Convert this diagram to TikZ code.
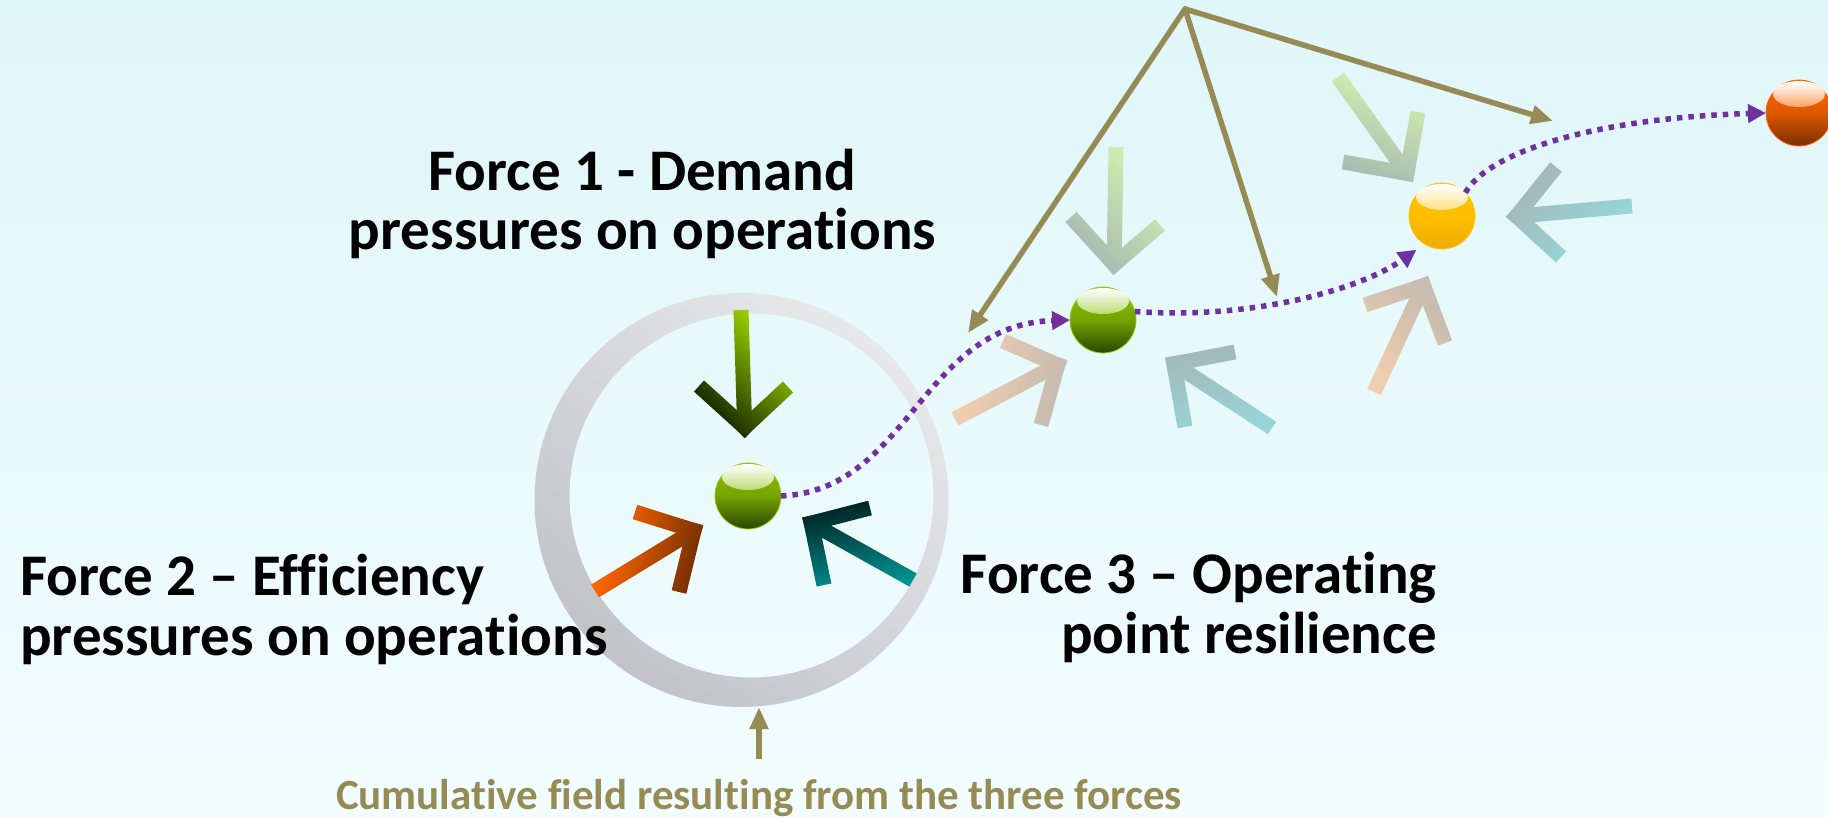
\documentclass[tikz,border=0pt]{standalone}
\usepackage{fontspec}
\setmainfont{Carlito}[Ligatures={NoCommon,NoContextual}, Contextuals={NoAlternate}]
\usetikzlibrary{calc,arrows.meta}
\definecolor{bgtop}{HTML}{DFF6F9}
\definecolor{bgbot}{HTML}{F3FDFE}
\definecolor{bgmid}{HTML}{E8F9FB}
\definecolor{olive}{HTML}{968B55}
\definecolor{purp}{HTML}{7030A0}
\definecolor{grnL}{HTML}{99CC00}
\definecolor{grnD}{HTML}{1C3000}
\definecolor{orgL}{HTML}{FF6600}
\definecolor{orgD}{HTML}{7A3000}
\definecolor{tealL}{HTML}{009999}
\definecolor{tealD}{HTML}{002626}
\colorlet{fgrnL}{grnL!30!bgmid}
\colorlet{fgrnD}{grnD!30!bgmid}
\colorlet{forgL}{orgL!30!bgmid}
\colorlet{forgD}{orgD!30!bgmid}
\colorlet{ftealL}{tealL!35!bgmid}
\colorlet{ftealD}{tealD!30!bgmid}
\definecolor{ringL}{HTML}{E6E8EA}
\definecolor{ringD}{HTML}{C2C3C7}
\definecolor{gbTop}{HTML}{8DC000}
\definecolor{gbMid}{HTML}{74A300}
\definecolor{gbBot}{HTML}{2A4500}
\definecolor{gbHi}{HTML}{B8DA70}
\definecolor{ybTop}{HTML}{FFC400}
\definecolor{ybMid}{HTML}{FFBE00}
\definecolor{ybBot}{HTML}{F0AC00}
\definecolor{ybHi}{HTML}{FFDF80}
\definecolor{obTop}{HTML}{FF6A00}
\definecolor{obMid}{HTML}{DD5800}
\definecolor{obBot}{HTML}{7A2E00}
\definecolor{obHi}{HTML}{FFA060}
\colorlet{armL}{grnL}
\colorlet{armD}{grnD}

\pgfdeclareverticalshading[armL,armD]{armgrad}{100bp}{color(0bp)=(armD); color(35bp)=(armD); color(65bp)=(armL); color(100bp)=(armL)}

\tikzset{
  gloss/.style n args={4}{circle, minimum size=66pt, inner sep=0pt, outer sep=0pt,
      top color=#1, bottom color=#3, middle color=#2, draw=#4, line width=0.8pt},
  dotpath/.style={draw=purp, line width=5.5pt, dash pattern=on 5.5pt off 6pt,
      -{Triangle[length=18pt,width=18pt]}},
  olivearrow/.style={draw=olive, line width=5.5pt, -{Triangle[length=22pt,width=18pt]}},
  lbl/.style={font=\bfseries\fontsize{59}{70}\selectfont, inner sep=0pt, text=black},
  caplbl/.style={font=\bfseries\fontsize{43}{50}\selectfont, inner sep=0pt, text=olive},
}

\newcommand\armpiece[5]{%
  \coordinate (apA) at (#1);
  \coordinate (apB) at ($(#2)!-#3!(#1)$);
  \begin{scope}
    \clip ($(apA)!7.5pt!90:(apB)$) -- ($(apB)!7.5pt!-90:(apA)$) --
          ($(apB)!7.5pt!90:(apA)$) -- ($(apA)!7.5pt!-90:(apB)$) -- cycle;
    \shade[shading=armgrad, shading angle=#5] (#4) circle[radius=75];
  \end{scope}}

% #1 shaft start, #2 apex, #3 #4 wing ends, #5 light, #6 dark, #7 angle
\newcommand\chev[7]{%
  \colorlet{armL}{#5}\colorlet{armD}{#6}%
  \coordinate (chT) at ($(#2)!10.6pt!(#1)$);
  \coordinate (chC) at ($(#1)!0.5!(#2)$);
  \armpiece{#1}{chT}{0pt}{chC}{#7}%
  \armpiece{#3}{chT}{7.5pt}{chC}{#7}%
  \armpiece{#4}{chT}{7.5pt}{chC}{#7}}

\newcommand\hilite[2]{%
  \shade[top color=white, bottom color=#2, middle color=white!55!#2]
    ($(#1.center)+(0,-19)$) ellipse[x radius=26, y radius=13];}

\begin{document}
\begin{tikzpicture}[x=1pt, y=-1pt]
\useasboundingbox (0,0) rectangle (1828,818);
\clip (0,0) rectangle (1828,818);
\shade[top color=bgtop, bottom color=bgbot] (0,0) rectangle (1828,818);

% cumulative field ring
\node[circle, minimum size=414pt, inner sep=0pt] (ring) at (741.5,500) {};
\shade[even odd rule, top color=ringL, bottom color=ringD, shading angle=-40]
  (741.5,500) circle[radius=207] (751.5,495.5) circle[radius=182];

% the three forces (main)
\chev{741,310}{745,438}{699,386}{788,387}{grnL}{grnD}{-45}
\chev{595,591}{703,525}{635,512}{679,592}{orgL}{orgD}{75}
\chev{913,580}{802,518}{870,508}{824,585}{tealL}{tealD}{190}

% faded forces at second point
\chev{1116,147}{1114,275}{1071,217}{1160,225}{fgrnL}{fgrnD}{-45}
\chev{955,419}{1067,360}{1003,341}{1041,425}{forgL}{forgD}{80}
\chev{1272,428}{1165,358}{1235,352}{1185,427}{ftealL}{ftealD}{190}

% faded forces at third point
\chev{1338,77}{1413,182}{1343,162}{1418,112}{fgrnL}{fgrnD}{-20}
\chev{1374,392}{1428,276}{1365,305}{1445,343}{forgL}{forgD}{135}
\chev{1632,206}{1506,217}{1556,167}{1561,257}{ftealL}{ftealD}{-135}

% operating points
\node[gloss={gbTop}{gbMid}{gbBot}{grnL}] (b1) at (748,496) {};
\node[gloss={gbTop}{gbMid}{gbBot}{grnL}] (b2) at (1103,320) {};
\node[gloss={ybTop}{ybMid}{ybBot}{ybTop}] (b3) at (1442,216) {};
\node[gloss={obTop}{obMid}{obBot}{orgL}] (b4) at (1799,113) {};
\hilite{b1}{gbHi}
\hilite{b2}{gbHi}
\hilite{b3}{ybHi}
\hilite{b4}{obHi}

% trajectory
\draw[dotpath] (b1.east) .. controls (910,490) and (920,325) .. (b2.west);
\draw[dotpath, shorten >=10pt] (b2.15) .. controls (1250,320) and (1360,290) .. (b3.238);
\draw[dotpath] (b3.45) .. controls (1490,150) and (1600,118) .. (b4.west);

% pointers from the top
\coordinate (apex) at (1185,9);
\coordinate (pt1) at (968,333);
\coordinate (pt2) at (1277,297);
\coordinate (pt3) at (1553,121);
\draw[olivearrow, line cap=round] (apex) -- (pt1);
\draw[olivearrow, line cap=round] (apex) -- (pt2);
\draw[olivearrow, line cap=round] (apex) -- (pt3);

% labels
\node[lbl, anchor=base] (f1a) at (642.5,191) {Force 1 - Demand};
\node[lbl, anchor=base] (f1b) at (642.5,250) {pressures on operations};
\node[lbl, anchor=base west] (f2a) at (20,595) {Force 2 – Efficiency};
\node[lbl, anchor=base west] (f2b) at (20,655) {pressures on operations};
\node[lbl, anchor=base east] (f3a) at (1437,593) {Force 3 – Operating};
\node[lbl, anchor=base east] (f3b) at (1437,653) {point resilience};
\node[caplbl, anchor=base] (cap) at (759,809) {Cumulative field resulting from the three forces};
\draw[olivearrow, shorten <=20pt] (cap.north) -- (cap.north |- ring.south);
\end{tikzpicture}
\end{document}
